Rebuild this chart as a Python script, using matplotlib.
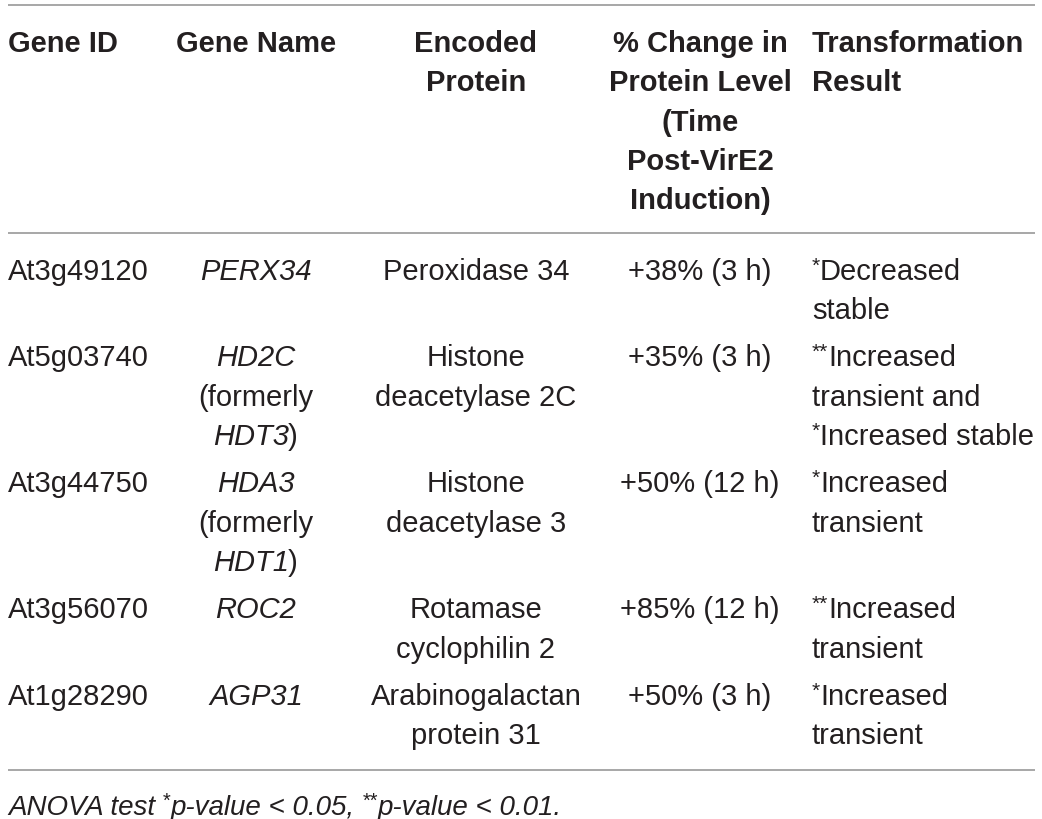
import re
import matplotlib
matplotlib.use('Agg')
import matplotlib.pyplot as plt

# table content
header = [['Gene ID'], ['Gene Name'], ['Encoded', 'Protein'],
          ['% Change in', 'Protein Level', '(Time', 'Post-VirE2', 'Induction)'],
          ['Transformation', 'Result']]
gene_ids = ['At3g49120', 'At5g03740', 'At3g44750', 'At3g56070', 'At1g28290']
gene_names = [['PERX34'], ['HD2C', '(formerly', 'HDT3'], ['HDA3', '(formerly', 'HDT1'],
              ['ROC2'], ['AGP31']]
proteins = [['Peroxidase 34'], ['Histone', 'deacetylase 2C'], ['Histone', 'deacetylase 3'],
            ['Rotamase', 'cyclophilin 2'], ['Arabinogalactan', 'protein 31']]
changes = ['+38% (3 h)', '+35% (3 h)', '+50% (12 h)', '+85% (12 h)', '+50% (3 h)']
results = [['*Decreased', 'stable'], ['**Increased', 'transient and', '*Increased stable'],
           ['*Increased', 'transient'], ['**Increased', 'transient'], ['*Increased', 'transient']]
footnote = 'ANOVA test *p-value < 0.05, **p-value < 0.01.'

W, H = 1042, 820
fig = plt.figure(figsize=(W / 100, H / 100), dpi=100)
ax = fig.add_axes([0, 0, 1, 1])
ax.set_xlim(0, W)
ax.set_ylim(H, 0)
ax.axis('off')

FONT = 'Liberation Sans'
FS = 21
TXT = '#231f20'
RULE = '#a0a0a0'

# column anchors (x, ha)
cols = [(8, 'left'), (256, 'center'), (476, 'center'), (700, 'center'), (812, 'left')]
pitch = 39.5

# rules
for y in (6, 234, 771):
    ax.plot([8, 1035], [y, y], color=RULE, lw=1.3, solid_capstyle='butt')

# header
for (x, ha), lines in zip(cols, header):
    for i, s in enumerate(lines):
        ax.text(x, 52 + i * 39.3, s, ha=ha, va='baseline', fontsize=FS,
                fontweight='bold', family=FONT, color=TXT)

renderer = fig.canvas.get_renderer()


def put(x, y, s, ha, style='normal', size=FS):
    return ax.text(x, y, s, ha=ha, va='baseline', fontsize=size, family=FONT,
                   style=style, color=TXT)


def put_run(x, y, s, style='normal', size=FS):
    # left-aligned text whose asterisks are drawn small and raised
    for part in re.split(r'(\*+)', s):
        if not part:
            continue
        if part.startswith('*'):
            t = put(x, y - size * 0.4, part, 'left', 'normal', size * 0.72)
        else:
            t = put(x, y, part, 'left', style, size)
        x += t.get_window_extent(renderer).width


y0 = 280
for r in range(len(gene_ids)):
    nlines = max(len(gene_names[r]), len(proteins[r]), len(results[r]))
    put(cols[0][0], y0, gene_ids[r], 'left')
    for i, s in enumerate(gene_names[r]):
        y = y0 + i * pitch
        if s.startswith('(formerly'):
            put(cols[1][0], y, s, 'center')
        elif i == 2:
            # italic gene symbol followed by a regular closing paren
            t = put(0, y, s, 'left', 'italic')
            p = put(0, y, ')', 'left')
            w1 = t.get_window_extent(renderer).width
            w2 = p.get_window_extent(renderer).width
            left = cols[1][0] - (w1 + w2) / 2
            t.set_x(left)
            p.set_x(left + w1 - 1)
        else:
            put(cols[1][0], y, s, 'center', 'italic')
    for i, s in enumerate(proteins[r]):
        put(cols[2][0], y0 + i * pitch, s, 'center')
    put(cols[3][0], y0, changes[r], 'center')
    for i, s in enumerate(results[r]):
        put_run(cols[4][0], y0 + i * pitch, s)
    y0 += (nlines - 1) * pitch + 47

put_run(8, 815, footnote, 'italic', 20)

fig.savefig('out.png', dpi=100)
